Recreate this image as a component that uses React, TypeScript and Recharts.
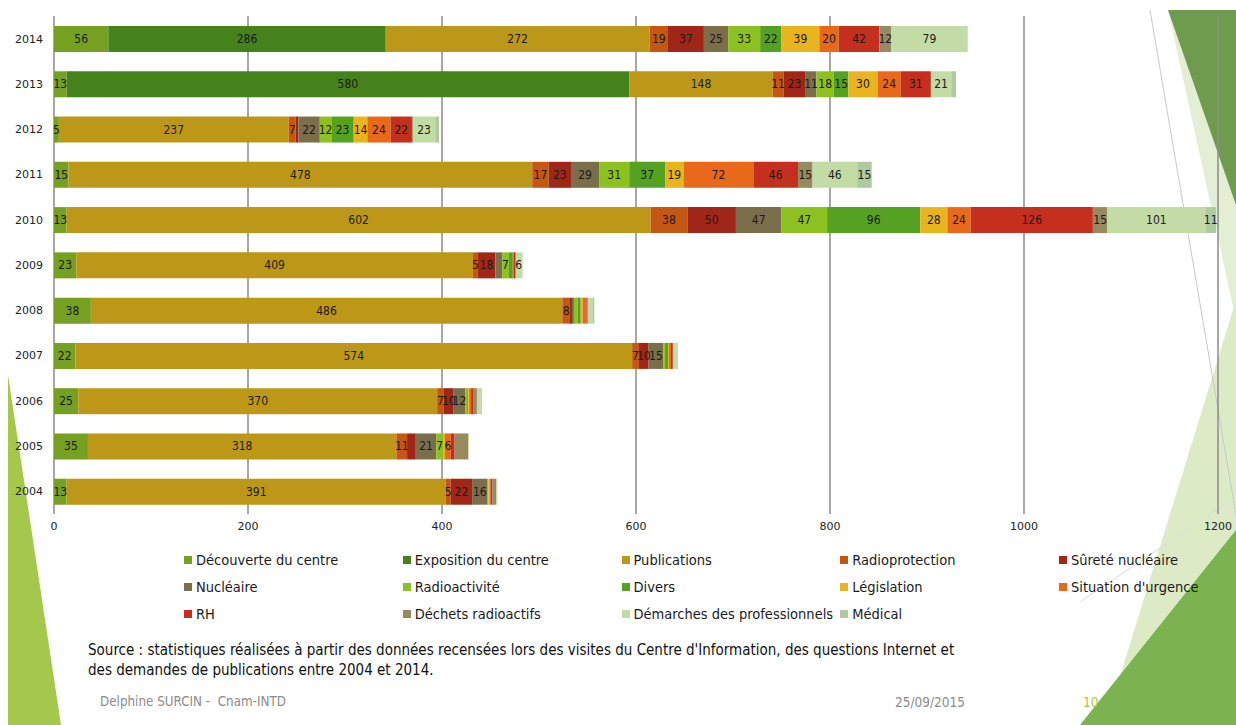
import React from 'react'
import { BarChart, Bar, XAxis, YAxis, CartesianGrid, LabelList } from 'recharts'

const YEARS = ['2014', '2013', '2012', '2011', '2010', '2009', '2008', '2007', '2006', '2005', '2004']
const X_TICKS = [0, 200, 400, 600, 800, 1000, 1200]

const decouverte = [56, 13, 5, 15, 13, 23, 38, 22, 25, 35, 13]
const exposition = [286, 580, 0, 0, 0, 0, 0, 0, 0, 0, 0]
const publications = [272, 148, 237, 478, 602, 409, 486, 574, 370, 318, 391]
const radioprotection = [19, 11, 7, 17, 38, 5, 8, 7, 7, 11, 5]
const surete = [37, 23, 3, 23, 50, 18, 2, 10, 10, 9, 22]
const nucleaire = [25, 11, 22, 29, 47, 7, 2, 15, 12, 21, 16]
const radioactivite = [33, 18, 12, 31, 47, 7, 4, 2, 2, 7, 1]
const divers = [22, 15, 23, 37, 96, 4, 3, 3, 1, 0, 0]
const legislation = [39, 30, 14, 19, 28, 0, 2, 1, 1, 2, 1]
const urgence = [20, 24, 24, 72, 24, 1, 4, 2, 2, 6, 1]
const rh = [42, 31, 22, 46, 126, 2, 1, 2, 2, 4, 2]
const dechets = [12, 0, 1, 15, 15, 0, 1, 0, 4, 14, 4]
const demarches = [79, 21, 23, 46, 101, 6, 4, 4, 4, 1, 1]
const medical = [0, 5, 4, 15, 11, 1, 2, 1, 1, 0, 0]

const SERIES = [
  { key: 'decouverte', name: 'Découverte du centre', color: '#76a021', values: decouverte },
  { key: 'exposition', name: 'Exposition du centre', color: '#46821b', values: exposition },
  { key: 'publications', name: 'Publications', color: '#bd9818', values: publications },
  { key: 'radioprotection', name: 'Radioprotection', color: '#c45812', values: radioprotection },
  { key: 'surete', name: 'Sûreté nucléaire', color: '#a02617', values: surete },
  { key: 'nucleaire', name: 'Nucléaire', color: '#7a6e4b', values: nucleaire },
  { key: 'radioactivite', name: 'Radioactivité', color: '#8dc120', values: radioactivite },
  { key: 'divers', name: 'Divers', color: '#55a222', values: divers },
  { key: 'legislation', name: 'Législation', color: '#e8b51f', values: legislation },
  { key: 'urgence', name: "Situation d'urgence", color: '#e8691a', values: urgence },
  { key: 'rh', name: 'RH', color: '#c42f1e', values: rh },
  { key: 'dechets', name: 'Déchets radioactifs', color: '#968a5e', values: dechets },
  { key: 'demarches', name: 'Démarches des professionnels', color: '#c3dca6', values: demarches },
  { key: 'medical', name: 'Médical', color: '#afc9a1', values: medical },
]

// segments whose value label the original left off
const HIDDEN_LABELS = ['2005|surete', '2005|dechets', '2009|nucleaire', '2013|medical']

const rows = YEARS.map((year, i) => {
  const row: Record<string, string | number> = { year }
  SERIES.forEach((s) => {
    const v = s.values[i]
    row[s.key] = v
    row[s.key + '_lbl'] = v >= 5 && !HIDDEN_LABELS.includes(`${year}|${s.key}`) ? String(v) : ''
  })
  return row
})

const FONT = '"DejaVu Sans Condensed", "DejaVu Sans", sans-serif'

function SegmentLabel(props: any) {
  const { x, y, width, height, value } = props
  if (!value) return null
  return (
    <text
      x={x + width / 2}
      y={y + height / 2}
      textAnchor="middle"
      dominantBaseline="central"
      fontSize={12}
      fontFamily={FONT}
      fill="#1a1a1a"
    >
      {value}
    </text>
  )
}

function Decor() {
  return (
    <svg width={1236} height={725} style={{ position: 'absolute', left: 0, top: 0 }}>
      <polygon points="8,375 8,725 61,725" fill="#a3c84b" />
      <polygon points="1168,10 1236,10 1236,320" fill="#e3eed5" />
      <polygon points="1168,10 1236,10 1236,205" fill="#6f9b4f" />
      <polygon points="1236,300 1236,725 1105,725" fill="#dcebc6" />
      <polygon points="1236,530 1236,725 1080,725" fill="#7ab34f" />
      <line x1={1150} y1={10} x2={1236} y2={515} stroke="#c8c8c8" strokeWidth={1} />
      <line x1={1236} y1={497} x2={1080} y2={602} stroke="#dcdcdc" strokeWidth={1} />
    </svg>
  )
}

export default function App() {
  return (
    <div style={{ position: 'absolute', left: 0, top: 0, width: 1236, height: 725, background: '#fff', overflow: 'hidden', fontFamily: FONT }}>
      <Decor />
      <div style={{ position: 'absolute', left: 0, top: 0 }}>
        <BarChart
          layout="vertical"
          width={1236}
          height={545}
          data={rows}
          margin={{ top: 16, right: 18, left: 0, bottom: 1 }}
          barSize={26}
        >
          <CartesianGrid horizontal={false} stroke="#8a8a8a" strokeWidth={1.5} />
          <XAxis
            type="number"
            domain={[0, 1200]}
            ticks={X_TICKS}
            interval={0}
            axisLine={false}
            tickLine={false}
            height={30}
            tick={{ fontSize: 11, fill: '#222', fontFamily: '"DejaVu Sans", sans-serif' }}
          />
          <YAxis
            type="category"
            dataKey="year"
            width={54}
            axisLine={false}
            tickLine={false}
            tick={{ fontSize: 11, fill: '#222', fontFamily: '"DejaVu Sans", sans-serif', dx: -3 }}
          />
          {SERIES.map((s) => (
            <Bar key={s.key} dataKey={s.key} name={s.name} stackId="a" fill={s.color} isAnimationActive={false}>
              <LabelList dataKey={s.key + '_lbl'} content={SegmentLabel} />
            </Bar>
          ))}
        </BarChart>
      </div>

      <div
        style={{
          position: 'absolute',
          left: 184,
          top: 550,
          display: 'grid',
          gridTemplateColumns: 'repeat(5, 218.75px)',
          rowGap: 7,
          fontSize: 14.5,
          color: '#1a1a1a',
        }}
      >
        {SERIES.map((s) => (
          <div key={s.key} style={{ display: 'flex', alignItems: 'center', height: 20, whiteSpace: 'nowrap' }}>
            <span style={{ width: 8, height: 8, background: s.color, marginRight: 4, flexShrink: 0 }} />
            {s.name}
          </div>
        ))}
      </div>

      <div style={{ position: 'absolute', left: 88, top: 640, fontSize: 15, lineHeight: '20px', color: '#111', whiteSpace: 'nowrap' }}>
        Source : statistiques réalisées à partir des données recensées lors des visites du Centre d'Information, des questions Internet et
        <br />
        des demandes de publications entre 2004 et 2014.
      </div>

      <div style={{ position: 'absolute', left: 100, top: 694, fontSize: 13.3, color: '#8c8c8c', whiteSpace: 'pre' }}>
        {'Delphine SURCIN -  Cnam-INTD'}
      </div>
      <div style={{ position: 'absolute', left: 895, top: 694, fontSize: 13.5, color: '#8c8c8c' }}>25/09/2015</div>
      <div style={{ position: 'absolute', left: 1083, top: 694, fontSize: 13.5, color: '#a5c94a' }}>10</div>
    </div>
  )
}
